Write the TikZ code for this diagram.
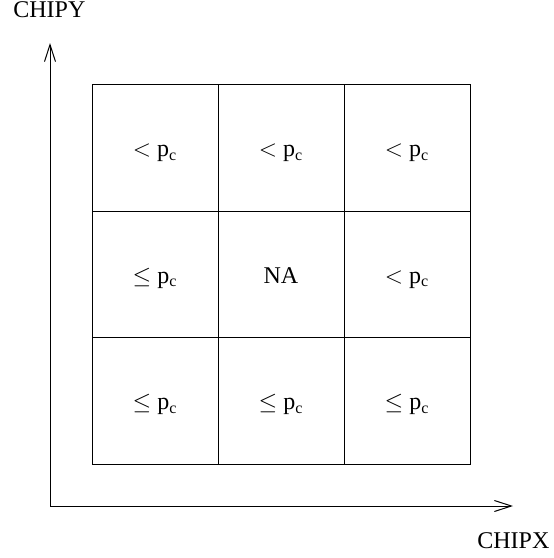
\documentclass[tikz,border=0pt]{standalone}
\usepackage{fontspec}
\setmainfont{Liberation Serif}
\usetikzlibrary{arrows.meta}
\newcommand{\lessp}{$<$ p\textsubscript{c}}
\newcommand{\leqp}{$\leq$ p\textsubscript{c}}
\begin{document}
\begin{tikzpicture}[x=0.5pt,y=-0.5pt,
  cell/.style={draw=black,line width=0.5pt,minimum width=63pt,minimum height=63.25pt,inner sep=0pt,outer sep=0pt,text height=8.5pt,text depth=0pt,font=\fontsize{12}{14}\selectfont},
  axis/.style={draw=black,line width=0.5pt,-{Straight Barb[length=8.5pt,width=5.5pt,line width=0.5pt]}},
  axlabel/.style={inner sep=0pt,anchor=base west,font=\fontsize{12}{14}\selectfont}]
\useasboundingbox (0,0) rectangle (553,558);
% cells
\node[cell] (c11) at (155,148) {\lessp};
\node[cell] (c12) at (281,148) {\lessp};
\node[cell] (c13) at (407,148) {\lessp};
\node[cell] (c21) at (155,274.5) {\leqp};
\node[cell] (c22) at (281,274.5) {NA};
\node[cell] (c23) at (407,274.5) {\lessp};
\node[cell] (c31) at (155,401) {\leqp};
\node[cell] (c32) at (281,401) {\leqp};
\node[cell] (c33) at (407,401) {\leqp};
% axes
\coordinate (o) at (50,506);
\coordinate (xe) at (513,506);
\coordinate (ye) at (50,43);
\draw[axis] (o) -- (xe);
\draw[axis] (o) -- (ye);
\node[axlabel] (ylab) at (13,17) {CHIPY};
\node[axlabel] (xlab) at (477,548) {CHIPX};
\end{tikzpicture}
\end{document}
